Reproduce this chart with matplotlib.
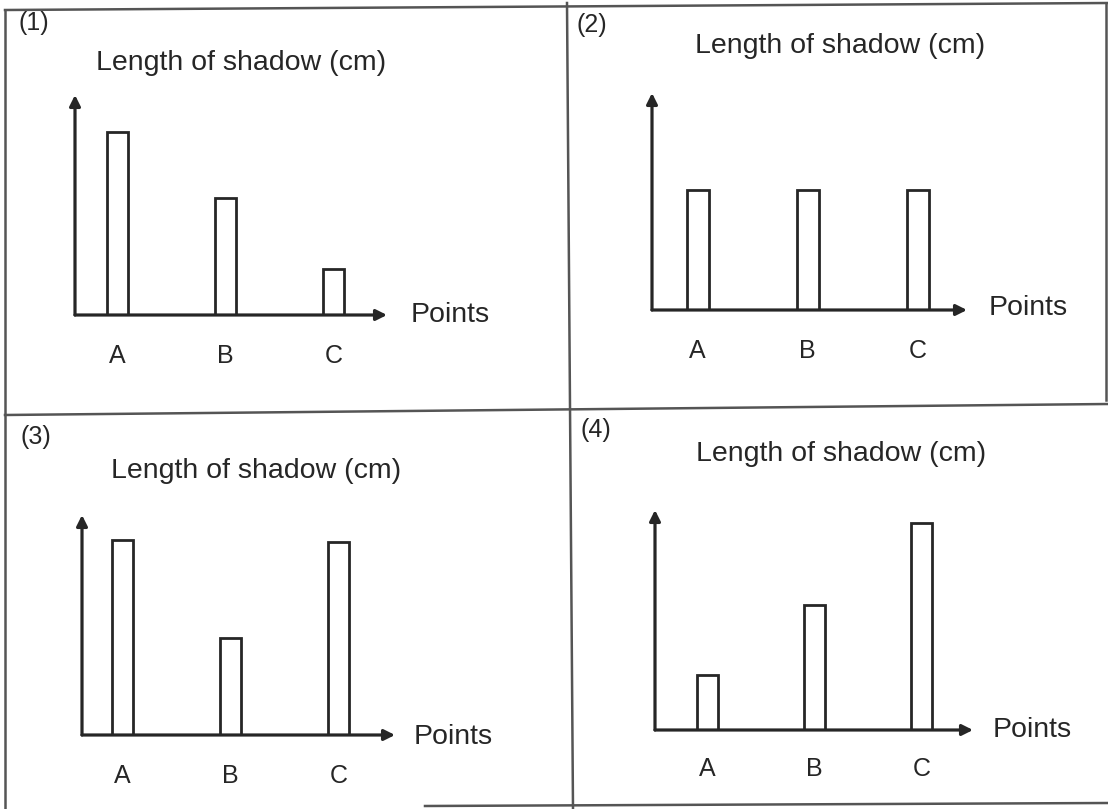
import matplotlib
matplotlib.use("Agg")
import matplotlib.pyplot as plt
from matplotlib.lines import Line2D

plt.rcParams['font.family'] = ['Liberation Sans', 'DejaVu Sans']

# ---- data (relative shadow lengths) ----
categories = ["A", "B", "C"]
panel_labels = ["(1)", "(2)", "(3)", "(4)"]
title_text = "Length of shadow (cm)"
xlabel_text = "Points"
shadow_1 = [183, 117, 46]
shadow_2 = [120, 120, 120]
shadow_3 = [195, 97, 193]
shadow_4 = [55, 125, 207]
series = [shadow_1, shadow_2, shadow_3, shadow_4]

W, H = 1108, 809
fig = plt.figure(figsize=(W / 100, H / 100), dpi=100)
fig.patch.set_facecolor("white")
INK = "#262626"
GRID_INK = "#555555"


def fx(x):
    return x / W


def fy(y):
    return 1 - y / H


# ---- frame lines (scanned table borders) ----
def fline(x0, y0, x1, y1, lw=1.8, color=GRID_INK):
    fig.add_artist(Line2D([fx(x0), fx(x1)], [fy(y0), fy(y1)], lw=lw,
                          color=color, transform=fig.transFigure))


fline(5, 10, 5, 809)          # left border
fline(5, 10, 1108, 3)         # top border
fline(1106, 3, 1106, 400)     # right border (upper part)
fline(5, 415, 1108, 404)      # horizontal divider
fline(567, 3, 573, 809)       # vertical divider
fline(425, 806, 1108, 803)    # bottom border (partial)

# ---- panel layout (pixels): y-axis x, arrow tip x, baseline y, tip y ----
layouts = [
    dict(ax_x=75, tip_x=387, base_y=315, tip_y=95, c0=117.5, step=108,
         num=(19, 23), title=(241, 63), pts=(411, 315), lab_y=355),
    dict(ax_x=652, tip_x=967, base_y=310, tip_y=93, c0=697.5, step=110,
         num=(576, 25), title=(840, 46), pts=(989, 308), lab_y=350),
    dict(ax_x=82, tip_x=395, base_y=735, tip_y=515, c0=122.5, step=108,
         num=(21, 437), title=(256, 471), pts=(414, 737), lab_y=775),
    dict(ax_x=655, tip_x=973, base_y=730, tip_y=510, c0=707.5, step=107,
         num=(581, 430), title=(841, 454), pts=(993, 730), lab_y=768),
]

YMAX = 220
for vals, lay, plab in zip(series, layouts, panel_labels):
    left = fx(lay["ax_x"])
    bottom = fy(lay["base_y"])
    width = (lay["tip_x"] - lay["ax_x"]) / W
    height = (lay["base_y"] - lay["tip_y"]) / H
    ax = fig.add_axes([left, bottom, width, height])
    ax.set_facecolor("none")
    xs = list(range(len(categories)))
    ax.bar(xs, vals, width=0.2, facecolor="white", edgecolor=INK,
           linewidth=2.0, zorder=2)
    x_left = (lay["ax_x"] - lay["c0"]) / lay["step"]
    x_right = (lay["tip_x"] - lay["c0"]) / lay["step"]
    ax.set_xlim(x_left, x_right)
    ax.set_ylim(0, YMAX * height * H / 220)
    for s in ax.spines.values():
        s.set_visible(False)
    ax.set_yticks([])
    ax.set_xticks(xs)
    ax.set_xticklabels(categories, fontsize=18, color=INK)
    pad_pt = (lay["lab_y"] - lay["base_y"] - 11) * 0.72
    ax.tick_params(axis="x", length=0, pad=pad_pt)
    # axes with arrowheads
    ax.annotate("", xy=(1, 0), xytext=(0, 0), xycoords="axes fraction",
                textcoords="axes fraction", annotation_clip=False,
                arrowprops=dict(arrowstyle="-|>", lw=2.3, color=INK,
                                mutation_scale=16, shrinkA=0, shrinkB=0),
                zorder=3)
    ax.annotate("", xy=(0, 1), xytext=(0, 0), xycoords="axes fraction",
                textcoords="axes fraction", annotation_clip=False,
                arrowprops=dict(arrowstyle="-|>", lw=2.3, color=INK,
                                mutation_scale=16, shrinkA=0, shrinkB=0),
                zorder=3)
    # texts
    fig.text(fx(lay["num"][0]), fy(lay["num"][1]), plab, fontsize=18,
             color=INK, ha="left", va="center")
    fig.text(fx(lay["title"][0]), fy(lay["title"][1]), title_text,
             fontsize=20.5, color=INK, ha="center", va="center")
    fig.text(fx(lay["pts"][0]), fy(lay["pts"][1]), xlabel_text,
             fontsize=20.5, color=INK, ha="left", va="center")

fig.savefig("out.png", dpi=100, facecolor="white")
